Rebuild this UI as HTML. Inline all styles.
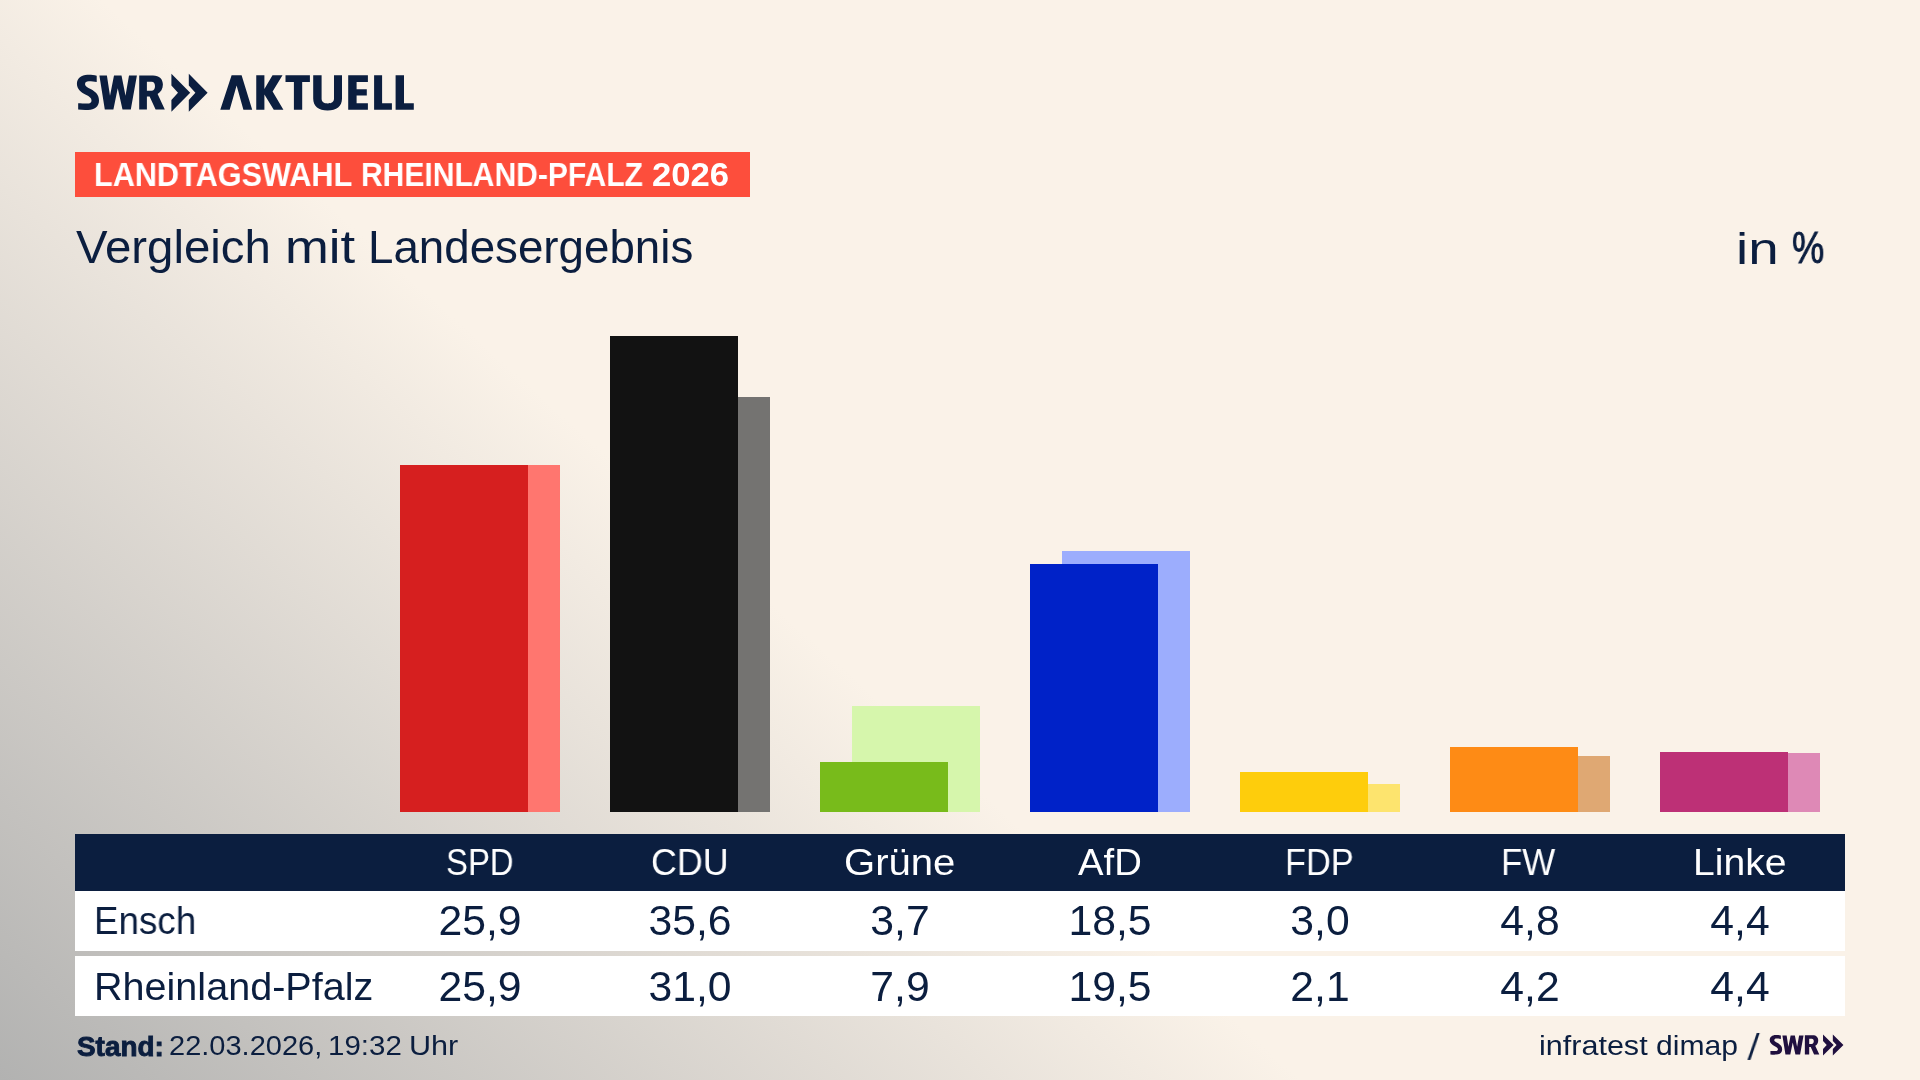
<!DOCTYPE html>
<html lang="de"><head><meta charset="utf-8"><title>SWR Aktuell – Vergleich mit Landesergebnis</title>
<style>
html,body{margin:0;padding:0}
body{width:1920px;height:1080px;overflow:hidden;font-family:"Liberation Sans", sans-serif;}
#stage{position:relative;width:1920px;height:1080px;overflow:hidden;
 background:linear-gradient(42deg,#b2b2b1 0%,#faf2e8 41.7%);}
.t{position:absolute;white-space:pre;transform-origin:0 0;font-weight:400;will-change:transform}
.v{position:absolute;width:200px;text-align:center;white-space:pre;transform-origin:50% 0;will-change:transform;font-size:42.0px;line-height:42.0px;color:#0b1e3f}
.b{position:absolute;width:128px}
.r{position:absolute;left:75px;width:1770px}
svg{position:absolute;left:0;top:0}
</style></head><body><div id="stage">
<div class="r" style="left:75px;top:152px;width:675px;height:45px;background:#fd4e3c"></div>
<div class="b" style="left:432px;top:465px;height:347px;background:#ff766f"></div>
<div class="b" style="left:400px;top:465px;height:347px;background:#d61f1f"></div>
<div class="b" style="left:642px;top:397px;height:415px;background:#747371"></div>
<div class="b" style="left:610px;top:336px;height:476px;background:#121212"></div>
<div class="b" style="left:852px;top:706px;height:106px;background:#d6f6ac"></div>
<div class="b" style="left:820px;top:762px;height:50px;background:#78bb1b"></div>
<div class="b" style="left:1062px;top:551px;height:261px;background:#9cadfd"></div>
<div class="b" style="left:1030px;top:564px;height:248px;background:#0022c8"></div>
<div class="b" style="left:1272px;top:784px;height:28px;background:#fde46e"></div>
<div class="b" style="left:1240px;top:772px;height:40px;background:#fecd0c"></div>
<div class="b" style="left:1482px;top:756px;height:56px;background:#dfa873"></div>
<div class="b" style="left:1450px;top:747px;height:65px;background:#fe8b15"></div>
<div class="b" style="left:1692px;top:753px;height:59px;background:#de89b6"></div>
<div class="b" style="left:1660px;top:752px;height:60px;background:#bd3076"></div>
<div class="r" style="top:834px;height:57px;background:#0b1e3f"></div>
<div class="r" style="top:890.5px;height:60.7px;background:#fff"></div>
<div class="r" style="top:955.7px;height:60.5px;background:#fff"></div>
<svg width="1920" height="1080" viewBox="0 0 1920 1080" role="img" aria-label="SWR Aktuell">
<g fill="#0b1e3f">
<path transform="translate(74,70) scale(0.0416667)" d="M545 135 C480 120 400 112 320 115 C180 118 70 200 70 330 C70 455 160 530 285 595 C375 640 420 675 420 730 C420 780 388 806 320 806 C240 806 160 800 100 800 L100 950 C170 958 250 962 340 958 C490 955 600 880 600 730 C600 595 525 530 410 462 C315 410 265 385 265 340 C265 292 300 270 355 270 C420 270 490 277 545 285 Z"/>
<path d="M99.4 75.6 L106.9 75.6 L110 95.8 L114 75.6 L121.5 75.6 L125.5 95.8 L129 75.6 L136.9 75.6 L130.8 109.6 L122.5 109.6 L117.75 88.3 L113.4 109.6 L104.8 109.6 Z"/>
<path fill-rule="evenodd" d="M139.2 75.4 L153 75.4 C159.5 75.4 162.9 79 162.9 84.6 C162.9 89 160.8 92.3 157.6 94 L164.8 109.6 L155.6 109.6 L149.6 96.4 L146.9 96.4 L146.9 109.6 L139.2 109.6 Z M146.9 81.7 L151.5 81.7 C154 81.7 155 83.7 155 86.2 C155 88.8 153.8 90.8 151.3 90.8 L146.9 90.8 Z"/>
<path d="M171.4 73.8 L190.2 92.75 L171.4 111.7 L171.4 100 L178 92.75 L171.4 85.4 Z"/>
<path d="M188.8 73.8 L207.6 92.75 L188.8 111.7 L188.8 100 L195.4 92.75 L188.8 85.4 Z"/>
<path d="M220.3 109.7 L231.6 75.3 L241.6 75.3 L252.2 109.7 L243.4 109.7 L236.6 85.6 L229.7 109.7 Z"/>
<path d="M256.25 75.3 L264.4 75.3 L264.4 89 L272.5 75.3 L282.5 75.3 L272.6 91.6 L283.4 109.7 L273.75 109.7 L264.4 94.5 L264.4 109.7 L256.25 109.7 Z"/>
<path d="M285.5 75.3 L309.9 75.3 L309.9 82 L302.2 82 L302.2 109.7 L293.9 109.7 L293.9 82 L285.5 82 Z"/>
<path d="M313.2 75.3 L321.6 75.3 L321.6 98.5 C321.6 102 323.8 103.4 327.7 103.4 C331.6 103.4 334 102 334 98.5 L334 75.3 L342 75.3 L342 98.5 C342 106.5 336.5 110.5 327.6 110.5 C318.7 110.5 313.2 106.5 313.2 98.5 Z"/>
<path d="M348.2 75.3 L367.9 75.3 L367.9 82 L356.6 82 L356.6 89.3 L366.8 89.3 L366.8 95.5 L356.6 95.5 L356.6 103.2 L367.9 103.2 L367.9 109.7 L348.2 109.7 Z"/>
<path d="M374.1 75.3 L382.1 75.3 L382.1 103.2 L391.9 103.2 L391.9 109.7 L374.1 109.7 Z"/>
<path d="M395.6 75.3 L404 75.3 L404 103.2 L413.8 103.2 L413.8 109.7 L395.6 109.7 Z"/>
</g>
<g fill="#20103f" transform="translate(1726.3,993.07) scale(0.5643,0.56)"><path transform="translate(74,70) scale(0.0416667)" d="M545 135 C480 120 400 112 320 115 C180 118 70 200 70 330 C70 455 160 530 285 595 C375 640 420 675 420 730 C420 780 388 806 320 806 C240 806 160 800 100 800 L100 950 C170 958 250 962 340 958 C490 955 600 880 600 730 C600 595 525 530 410 462 C315 410 265 385 265 340 C265 292 300 270 355 270 C420 270 490 277 545 285 Z"/>
<path d="M99.4 75.6 L106.9 75.6 L110 95.8 L114 75.6 L121.5 75.6 L125.5 95.8 L129 75.6 L136.9 75.6 L130.8 109.6 L122.5 109.6 L117.75 88.3 L113.4 109.6 L104.8 109.6 Z"/>
<path fill-rule="evenodd" d="M139.2 75.4 L153 75.4 C159.5 75.4 162.9 79 162.9 84.6 C162.9 89 160.8 92.3 157.6 94 L164.8 109.6 L155.6 109.6 L149.6 96.4 L146.9 96.4 L146.9 109.6 L139.2 109.6 Z M146.9 81.7 L151.5 81.7 C154 81.7 155 83.7 155 86.2 C155 88.8 153.8 90.8 151.3 90.8 L146.9 90.8 Z"/>
<path d="M171.4 73.8 L190.2 92.75 L171.4 111.7 L171.4 100 L178 92.75 L171.4 85.4 Z"/>
<path d="M188.8 73.8 L207.6 92.75 L188.8 111.7 L188.8 100 L195.4 92.75 L188.8 85.4 Z"/></g>
</svg>

<div class="t" style="left:94.06px;top:157.62px;font-size:33.4px;line-height:33.4px;color:#ffffff;transform:scaleX(0.9179);font-weight:700;">LANDTAGSWAHL</div>
<div class="t" style="left:361.20px;top:157.62px;font-size:33.4px;line-height:33.4px;color:#ffffff;transform:scaleX(0.8994);font-weight:700;">RHEINLAND-PFALZ</div>
<div class="t" style="left:651.96px;top:157.62px;font-size:33.4px;line-height:33.4px;color:#ffffff;transform:scaleX(1.0384);font-weight:700;">2026</div>
<div class="t" style="left:76.20px;top:225.16px;font-size:45.4px;line-height:45.4px;color:#0b1e3f;transform:scaleX(1.0435);">Vergleich</div>
<div class="t" style="left:284.92px;top:225.16px;font-size:45.4px;line-height:45.4px;color:#0b1e3f;transform:scaleX(1.1590);">mit</div>
<div class="t" style="left:368.23px;top:225.16px;font-size:45.4px;line-height:45.4px;color:#0b1e3f;transform:scaleX(1.0069);">Landesergebnis</div>
<div class="t" style="left:1735.75px;top:225.50px;font-size:45.0px;line-height:45.0px;color:#0b1e3f;transform:scaleX(1.2168);">in</div>
<div class="t" style="left:1792.43px;top:226.35px;font-size:44.0px;line-height:44.0px;color:#0b1e3f;transform:scaleX(0.8243);-webkit-text-stroke:0.9px #0b1e3f;">%</div>
<div class="t" style="left:446.33px;top:844.08px;font-size:37.7px;line-height:37.7px;color:#ffffff;transform:scaleX(0.8715);">SPD</div>
<div class="t" style="left:651.15px;top:844.08px;font-size:37.7px;line-height:37.7px;color:#ffffff;transform:scaleX(0.9499);">CDU</div>
<div class="t" style="left:844.24px;top:844.08px;font-size:37.7px;line-height:37.7px;color:#ffffff;transform:scaleX(1.0634);">Grüne</div>
<div class="t" style="left:1078.40px;top:844.08px;font-size:37.7px;line-height:37.7px;color:#ffffff;transform:scaleX(1.0161);">AfD</div>
<div class="t" style="left:1285.37px;top:844.08px;font-size:37.7px;line-height:37.7px;color:#ffffff;transform:scaleX(0.9110);">FDP</div>
<div class="t" style="left:1500.93px;top:844.08px;font-size:37.7px;line-height:37.7px;color:#ffffff;transform:scaleX(0.9247);">FW</div>
<div class="t" style="left:1692.59px;top:844.08px;font-size:37.7px;line-height:37.7px;color:#ffffff;transform:scaleX(1.0367);">Linke</div>
<div class="t" style="left:93.81px;top:902.06px;font-size:38.2px;line-height:38.2px;color:#0b1e3f;transform:scaleX(0.9624);">Ensch</div>
<div class="t" style="left:93.59px;top:967.56px;font-size:38.2px;line-height:38.2px;color:#0b1e3f;transform:scaleX(1.0358);">Rheinland-Pfalz</div>
<div class="t" style="left:77.15px;top:1032.70px;font-size:27.4px;line-height:27.4px;color:#0b1e3f;transform:scaleX(1.0182);font-weight:700;-webkit-text-stroke:0.9px #0b1e3f;">Stand:</div>
<div class="t" style="left:168.53px;top:1033.04px;font-size:27.0px;line-height:27.0px;color:#0b1e3f;transform:scaleX(1.0747);">22.03.2026,</div>
<div class="t" style="left:327.62px;top:1033.04px;font-size:27.0px;line-height:27.0px;color:#0b1e3f;transform:scaleX(1.0922);">19:32</div>
<div class="t" style="left:408.64px;top:1033.04px;font-size:27.0px;line-height:27.0px;color:#0b1e3f;transform:scaleX(1.1321);">Uhr</div>
<div class="t" style="left:1539.49px;top:1031.72px;font-size:27.5px;line-height:27.5px;color:#0b1e3f;transform:scaleX(1.1103);">infratest</div>
<div class="t" style="left:1656.40px;top:1031.72px;font-size:27.5px;line-height:27.5px;color:#0b1e3f;transform:scaleX(1.0950);">dimap</div>
<div class="t" style="left:1746.51px;top:1028.65px;font-size:37.5px;line-height:37.5px;color:#0b1e3f;transform:skewX(-3.89deg);transform-origin:0 100%;">/</div>
<div class="v" style="left:380px;top:900.04px;transform:scaleX(1.0168);">25,9</div>
<div class="v" style="left:590px;top:900.04px;transform:scaleX(1.0168);">35,6</div>
<div class="v" style="left:800px;top:900.04px;transform:scaleX(1.0168);">3,7</div>
<div class="v" style="left:1010px;top:900.04px;transform:scaleX(1.0168);">18,5</div>
<div class="v" style="left:1220px;top:900.04px;transform:scaleX(1.0168);">3,0</div>
<div class="v" style="left:1430px;top:900.04px;transform:scaleX(1.0168);">4,8</div>
<div class="v" style="left:1640px;top:900.04px;transform:scaleX(1.0168);">4,4</div>
<div class="v" style="left:380px;top:966.34px;transform:scaleX(1.0168);">25,9</div>
<div class="v" style="left:590px;top:966.34px;transform:scaleX(1.0168);">31,0</div>
<div class="v" style="left:800px;top:966.34px;transform:scaleX(1.0168);">7,9</div>
<div class="v" style="left:1010px;top:966.34px;transform:scaleX(1.0168);">19,5</div>
<div class="v" style="left:1220px;top:966.34px;transform:scaleX(1.0168);">2,1</div>
<div class="v" style="left:1430px;top:966.34px;transform:scaleX(1.0168);">4,2</div>
<div class="v" style="left:1640px;top:966.34px;transform:scaleX(1.0168);">4,4</div>
</div></body></html>
